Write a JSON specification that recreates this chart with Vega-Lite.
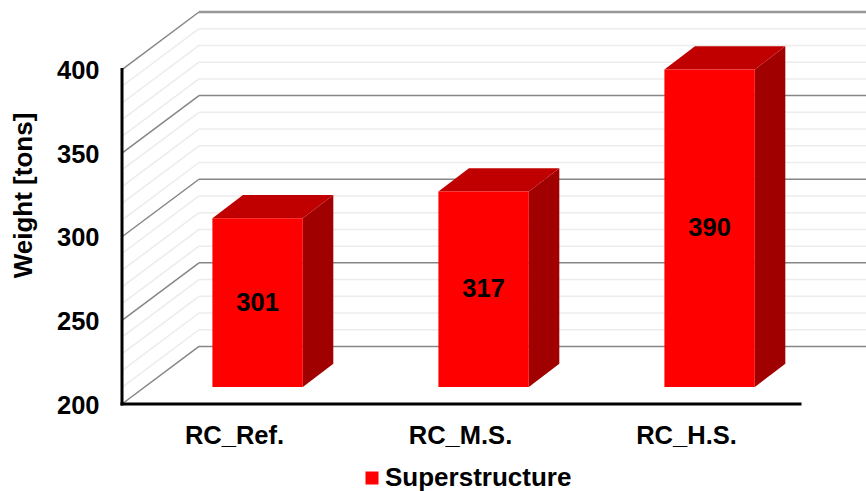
{
"$schema":"https://vega.github.io/schema/vega-lite/v6.json",
"width":744,"height":392,
"autosize":{"type":"none"},
"padding":{"left":122,"top":12,"right":0,"bottom":87},
"background":"#ffffff",
"config":{"view":{"stroke":null},"font":"Liberation Sans"},
"datasets":{
"bars":[{"config":"RC_Ref.","weight":301,"series":"Superstructure"},{"config":"RC_M.S.","weight":317,"series":"Superstructure"},{"config":"RC_H.S.","weight":390,"series":"Superstructure"}],
"ticks":[{"tick":200},{"tick":210},{"tick":220},{"tick":230},{"tick":240},{"tick":250},{"tick":260},{"tick":270},{"tick":280},{"tick":290},{"tick":300},{"tick":310},{"tick":320},{"tick":330},{"tick":340},{"tick":350},{"tick":360},{"tick":370},{"tick":380},{"tick":390},{"tick":400}]
},
"encoding":{
"x":{"field":"gx","type":"quantitative","title":null,"scale":{"domain":[0,3.292],"nice":false,"zero":false},
"axis":{"values":[0.5,1.5,2.5],"labelExpr":"datum.value<1?'RC_Ref.':datum.value<2?'RC_M.S.':'RC_H.S.'","domain":false,"ticks":false,"grid":false,"labelFont":"Liberation Sans","labelFontWeight":"bold","labelFontSize":25.5,"labelColor":"#000000","labelPadding":19,"labelOffset":-1,"labelFlush":false,"labelOverlap":false,"labelBound":false}},
"y":{"field":"gy","type":"quantitative","scale":{"domain":[200,434.4],"nice":false,"zero":false},
"axis":{"values":[200,250,300,350,400],"domain":false,"ticks":false,"grid":false,"labelFont":"Liberation Sans","labelFontWeight":"bold","labelFontSize":25.5,"labelColor":"#000000","labelPadding":23,"labelOffset":1,"title":"Weight [tons]","titleFont":"Liberation Sans","titleFontWeight":"bold","titleFontSize":26,"titleColor":"#000000","titleX":-99,"titleY":183,"titleAngle":-90,"titleBaseline":"middle","titleAnchor":"middle","labelOverlap":false,"labelFlush":false}}
},
"layer":[
{"data":{"name":"ticks"},"transform":[{"filter":"datum.tick%50!=0"},{"calculate":"0","as":"gx"},{"calculate":"datum.tick","as":"gy"},{"calculate":"0.3407","as":"gx2"},{"calculate":"datum.tick+34.4","as":"gy2"}],
"mark":{"type":"rule","stroke":"#ececec","strokeWidth":1.5},"encoding":{"x2":{"field":"gx2"},"y2":{"field":"gy2"}}},
{"data":{"name":"ticks"},"transform":[{"filter":"datum.tick%50!=0"},{"calculate":"0.3407","as":"gx"},{"calculate":"datum.tick+34.4","as":"gy"},{"calculate":"3.292","as":"gx2"}],
"mark":{"type":"rule","stroke":"#ececec","strokeWidth":1.5},"encoding":{"x2":{"field":"gx2"}}},
{"data":{"name":"ticks"},"transform":[{"filter":"datum.tick%50==0"},{"calculate":"0","as":"gx"},{"calculate":"datum.tick","as":"gy"},{"calculate":"0.3407","as":"gx2"},{"calculate":"datum.tick+34.4","as":"gy2"}],
"mark":{"type":"rule","stroke":"#868686","strokeWidth":1.5},"encoding":{"x2":{"field":"gx2"},"y2":{"field":"gy2"}}},
{"data":{"name":"ticks"},"transform":[{"filter":"datum.tick%50==0"},{"calculate":"0.3407","as":"gx"},{"calculate":"datum.tick+34.4","as":"gy"},{"calculate":"3.292","as":"gx2"}],
"mark":{"type":"rule","stroke":"#868686","strokeWidth":1.5},"encoding":{"x2":{"field":"gx2"}}},
{"data":{"name":"ticks"},"transform":[{"filter":"datum.tick==400"},{"calculate":"0.3407","as":"gx"},{"calculate":"datum.tick+34.4","as":"gy"},{"calculate":"3.292","as":"gx2"}],
"mark":{"type":"rule","stroke":"#989898","strokeWidth":2.5},"encoding":{"x2":{"field":"gx2"}}},
{"data":{"values":[{"gx":0,"gy":200,"gy2":400}]},"mark":{"type":"rule","stroke":"#000000","strokeWidth":3,"strokeCap":"square"},"encoding":{"y2":{"field":"gy2"}}},
{"data":{"values":[{"gx":0,"gx2":3,"gy":200}]},"mark":{"type":"rule","stroke":"#000000","strokeWidth":3,"strokeCap":"square"},"encoding":{"x2":{"field":"gx2"}}},
{"data":{"name":"bars"},"transform":[{"calculate":"indexof(['RC_Ref.','RC_M.S.','RC_H.S.'],datum.config)","as":"i"},{"calculate":"[0,1]","as":"t"},{"flatten":["t"]},{"calculate":"datum.i+0.8+datum.t*0.135","as":"gx"},{"calculate":"210.17+datum.t*13.9","as":"gy"},{"calculate":"datum.weight+10.0+datum.t*13.9","as":"gy2"}],
"mark":{"type":"area","fill":"#a00000","orient":"vertical"},"encoding":{"y2":{"field":"gy2"},"detail":{"field":"config"}}},
{"data":{"name":"bars"},"transform":[{"calculate":"indexof(['RC_Ref.','RC_M.S.','RC_H.S.'],datum.config)","as":"i"},{"calculate":"[0,1]","as":"t"},{"flatten":["t"]},{"calculate":"datum.i+0.4+datum.t*0.135","as":"gx"},{"calculate":"datum.i+0.8+datum.t*0.135","as":"gx2"},{"calculate":"datum.weight+10.0+datum.t*13.9","as":"gy"}],
"mark":{"type":"area","fill":"#c00000","orient":"horizontal"},"encoding":{"x2":{"field":"gx2"},"detail":{"field":"config"}}},
{"data":{"name":"bars"},"transform":[{"calculate":"indexof(['RC_Ref.','RC_M.S.','RC_H.S.'],datum.config)","as":"i"},{"calculate":"datum.i+0.4","as":"gx"},{"calculate":"datum.i+0.8","as":"gx2"},{"calculate":"210.17","as":"gy"},{"calculate":"datum.weight+10.0","as":"gy2"}],
"mark":{"type":"rect"},"encoding":{"x2":{"field":"gx2"},"y2":{"field":"gy2"},
"color":{"field":"series","type":"nominal","scale":{"domain":["Superstructure"],"range":["#ff0000"]},
"legend":{"orient":"none","legendX":237,"legendY":453,"title":null,"symbolType":"square","symbolSize":169,"symbolStrokeWidth":0,"labelFont":"Liberation Sans","labelFontWeight":"bold","labelFontSize":26,"labelColor":"#000000","labelOffset":0,"labelLimit":300}}}},
{"data":{"name":"bars"},"transform":[{"calculate":"indexof(['RC_Ref.','RC_M.S.','RC_H.S.'],datum.config)","as":"i"},{"calculate":"datum.i+0.6","as":"gx"},{"calculate":"(210.17+datum.weight+10.17)/2","as":"gy"}],
"mark":{"type":"text","font":"Liberation Sans","fontWeight":"bold","fontSize":25.5,"color":"#000000","baseline":"middle","align":"center"},"encoding":{"text":{"field":"weight","type":"quantitative"}}}
]
}
